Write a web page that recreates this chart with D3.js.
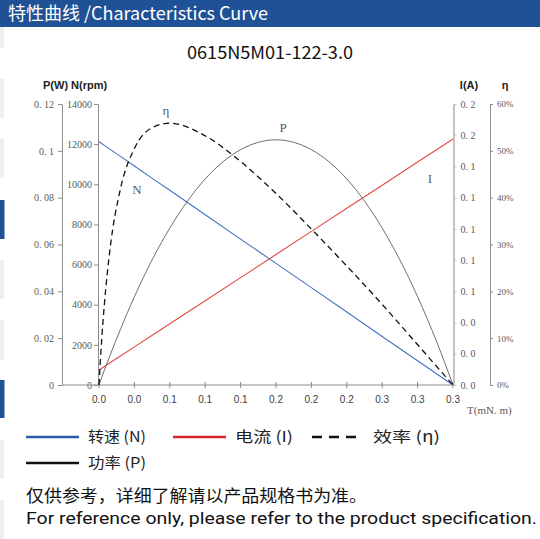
<!DOCTYPE html>
<html>
<head>
<meta charset="utf-8">
<script src="https://cdn.jsdelivr.net/npm/d3@7"></script>
<style>
  body { margin: 0; background: #fff; }
  svg { display: block; }
</style>
</head>
<body>
<div id="chart"></div>
<script>
// data (torque in mN.m)
var torque = [0, 0.0025, 0.005, 0.01, 0.02, 0.033, 0.05, 0.066, 0.099, 0.132, 0.165, 0.198, 0.231, 0.264, 0.297, 0.315, 0.33];
var speed = [12120, 12030, 11940, 11750, 11390, 10910, 10280, 9700, 8480, 7270, 6060, 4850, 3640, 2420, 1210, 550, 0];
var current = [0.0096, 0.0107, 0.0118, 0.0141, 0.0186, 0.0244, 0.0320, 0.0392, 0.0540, 0.0688, 0.0836, 0.0984, 0.1132, 0.1280, 0.1428, 0.1509, 0.1576];
var power = [0, 0.0032, 0.0063, 0.0123, 0.0238, 0.0377, 0.0539, 0.0670, 0.0880, 0.1005, 0.1047, 0.1005, 0.0880, 0.0670, 0.0377, 0.0182, 0];
var efficiency = [0, 9.6, 17.2, 28.5, 41.9, 50.5, 55.0, 55.9, 53.2, 47.7, 40.9, 33.3, 25.4, 17.2, 8.6, 3.9, 0];

// tick values and their printed labels
var xTicks = [0, 0.033, 0.066, 0.099, 0.132, 0.165, 0.198, 0.231, 0.264, 0.297, 0.33];
var xLabels = ["0.0","0.0","0.1","0.1","0.1","0.2","0.2","0.2","0.3","0.3","0.3"];
var pTicks = [0, 0.02, 0.04, 0.06, 0.08, 0.1, 0.12];
var pLabels = ["0","0. 02","0. 04","0. 06","0. 08","0. 1","0. 12"];
var nTicks = [0, 2000, 4000, 6000, 8000, 10000, 12000, 14000];
var iTicks = [0, 0.02, 0.04, 0.06, 0.08, 0.1, 0.12, 0.14, 0.16, 0.18];
var iLabels = ["0. 0","0. 0","0. 0","0. 1","0. 1","0. 1","0. 1","0. 1","0. 2","0. 2"];
var eTicks = [0, 10, 20, 30, 40, 50, 60];

var W = 540, H = 539;
var svg = d3.select('#chart').append('svg').attr('width', W).attr('height', H);
var cjk = '"Noto Sans CJK SC", "Noto Sans", sans-serif';

// header bar
svg.append('rect').attr('x',0).attr('y',0).attr('width',W).attr('height',27).attr('fill','#1f5196');
svg.append('text').attr('x',8).attr('y',20)
   .style('font-family',cjk).style('font-size','18px')
   .attr('textLength',260).attr('lengthAdjust','spacingAndGlyphs')
   .attr('fill','#fff').text('特性曲线 /Characteristics Curve');

// left side strip
var strip = [[27,48,'#eef0ef'],[79,118,'#eef0ef'],[139,178,'#eef0ef'],[200,239,'#1f5196'],
             [260,299,'#eef0ef'],[320,360,'#eef0ef'],[380,418,'#1f5196'],[440,479,'#eef0ef'],[500,539,'#eef0ef']];
strip.forEach(function(s){
    svg.append('rect').attr('x',0).attr('y',s[0]).attr('width', s[2]=='#1f5196' ? 4.5 : 4)
       .attr('height',s[1]-s[0]).attr('fill',s[2]);
});

// title
svg.append('text').attr('x',187).attr('y',59)
   .style('font-family',cjk).style('font-size','17.5px')
   .attr('textLength',166).attr('lengthAdjust','spacingAndGlyphs')
   .attr('fill','#111').text('0615N5M01-122-3.0');

var x0 = 99, x1 = 453, yTop = 104, yBot = 385;
var x = d3.scaleLinear().domain([0, 0.33]).range([x0, x1]);
var yN = d3.scaleLinear().domain([0, 14000]).range([yBot, yTop]);
var yP = d3.scaleLinear().domain([0, 0.12]).range([yBot, yTop]);
var yI = d3.scaleLinear().domain([0, 0.18]).range([yBot, yTop]);
var yE = d3.scaleLinear().domain([0, 60]).range([yBot, yTop]);

var serif = '"Liberation Serif", "DejaVu Serif", serif';

function styleAxis(g, color, width){
    g.select('.domain').attr('stroke', color).attr('stroke-width', width);
    g.selectAll('.tick line').attr('stroke', color);
    g.selectAll('.tick text').attr('fill','#595959').style('font-family', serif).style('font-size','10px');
}

// P axis
var gP = svg.append('g').attr('transform','translate(62,0)')
    .call(d3.axisLeft(yP).tickValues(pTicks).tickSizeInner(4).tickSizeOuter(0).tickPadding(4)
          .tickFormat(function(d,i){ return pLabels[i]; }));
styleAxis(gP, '#8c8c8c', 1);

// N axis
var gN = svg.append('g').attr('transform','translate(98,0)')
    .call(d3.axisLeft(yN).tickValues(nTicks).tickSizeInner(4).tickSizeOuter(0).tickPadding(2)
          .tickFormat(function(d){ return d; }));
styleAxis(gN, '#8c8c8c', 1);

// I axis
var gI = svg.append('g').attr('transform','translate(453.5,0)')
    .call(d3.axisRight(yI).tickValues(iTicks).tickSizeInner(3).tickSizeOuter(0).tickPadding(4)
          .tickFormat(function(d,i){ return iLabels[i]; }));
styleAxis(gI, '#c4c4c4', 2);

// efficiency axis
var gE = svg.append('g').attr('transform','translate(490,0)')
    .call(d3.axisRight(yE).tickValues(eTicks).tickSizeInner(3).tickSizeOuter(0).tickPadding(4)
          .tickFormat(function(d){ return d + '%'; }));
styleAxis(gE, '#8c8c8c', 1);
gE.selectAll('.tick text').style('font-size','9px');

// x axis
var gX = svg.append('g').attr('transform','translate(0,' + yBot + ')');
gX.append('line').attr('x1',62).attr('x2',x1).attr('y1',0).attr('y2',0).attr('stroke','#8c8c8c');
gX.selectAll('line.t').data(xTicks).enter().append('line').attr('class','t')
   .attr('x1',function(d){return x(d);}).attr('x2',function(d){return x(d);})
   .attr('y1',-3).attr('y2',3).attr('stroke','#8c8c8c');
gX.selectAll('text').data(xTicks).enter().append('text')
   .attr('x',function(d){return x(d);}).attr('y',18).attr('text-anchor','middle')
   .style('font-family','"Liberation Sans", Arial, sans-serif').style('font-size','10px')
   .attr('fill','#404040').text(function(d,i){ return xLabels[i]; });

// axis titles
function title(t, xx, yy, anchor){
    svg.append('text').attr('x',xx).attr('y',yy).attr('text-anchor',anchor||'start').attr('fill','#222')
       .style('font-family','"Liberation Sans", Arial, sans-serif').style('font-size','11px')
       .style('font-weight','bold').text(t);
}
title('P(W) N(rpm)', 43, 89);
title('I(A)', 469, 89, 'middle');
title('η', 505, 89, 'middle');
svg.append('text').attr('x',467).attr('y',414).style('font-family',serif).style('font-size','11px')
   .attr('fill','#595959').text('T(mN. m)');

// curves
var rows = torque.map(function(t,i){
    return {t:t, n:speed[i], i:current[i], p:power[i], e:efficiency[i]};
});
function line(y, key, curve){
    return d3.line().x(function(d){return x(d.t);}).y(function(d){return y(d[key]);}).curve(curve);
}
svg.append('path').datum(rows).attr('d', line(yN,'n',d3.curveLinear))
   .attr('fill','none').attr('stroke','#4472c4').attr('stroke-width',1.1);
svg.append('path').datum(rows).attr('d', line(yI,'i',d3.curveLinear))
   .attr('fill','none').attr('stroke','#e04b45').attr('stroke-width',1.1);
svg.append('path').datum(rows).attr('d', line(yP,'p',d3.curveMonotoneX))
   .attr('fill','none').attr('stroke','#6e6e6e').attr('stroke-width',1);
svg.append('path').datum(rows).attr('d', line(yE,'e',d3.curveMonotoneX))
   .attr('fill','none').attr('stroke','#111').attr('stroke-width',1.3).attr('stroke-dasharray','6,4');

// curve names
var names = [['η',166,115],['P',283,132],['N',137,194],['I',430,183]];
names.forEach(function(n){
    svg.append('text').attr('x',n[1]).attr('y',n[2]).attr('text-anchor','middle')
       .style('font-family',serif).style('font-size','13px').attr('fill','#595959').text(n[0]);
});

// legend
var legend = [
    ['转速 (N)', '#2a5aa8', null, 26, 437, 58],
    ['电流 (I)', '#d92430', null, 173, 437, 58],
    ['效率 (η)', '#111', '10,7', 312, 437, 67],
    ['功率 (P)', '#111', null, 26, 463, 58]
];
legend.forEach(function(l){
    var len = l[2] ? 44 : 53;
    svg.append('line').attr('x1',l[3]).attr('x2',l[3]+len).attr('y1',l[4]).attr('y2',l[4])
       .attr('stroke',l[1]).attr('stroke-width',2.5).attr('stroke-dasharray',l[2]);
    svg.append('text').attr('x', l[3] + (l[2] ? 61 : 62)).attr('y', l[4]+5)
       .style('font-family',cjk).style('font-size','15px')
       .attr('textLength',l[5]).attr('lengthAdjust','spacingAndGlyphs')
       .attr('fill','#222').text(l[0]);
});

// footnote
svg.append('text').attr('x',26).attr('y',501.5).style('font-family',cjk).style('font-size','16.5px')
   .attr('textLength',341).attr('lengthAdjust','spacingAndGlyphs')
   .attr('fill','#111').text('仅供参考，详细了解请以产品规格书为准。');
svg.append('text').attr('x',26).attr('y',524).style('font-family','Roboto, "Open Sans", sans-serif').style('font-size','17px')
   .attr('textLength',511).attr('lengthAdjust','spacingAndGlyphs')
   .attr('fill','#111').text('For reference only, please refer to the product specification.');
</script>
</body>
</html>
